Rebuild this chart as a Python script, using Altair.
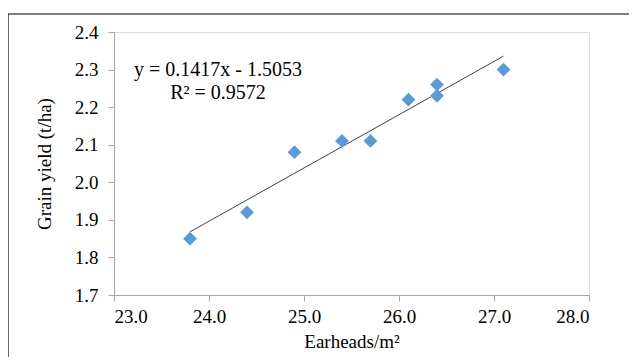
import altair as alt
import pandas as pd

earheads = [23.8, 24.4, 24.9, 25.4, 25.7, 26.1, 26.4, 26.4, 27.1]
grain_yield = [1.85, 1.92, 2.08, 2.11, 2.11, 2.22, 2.26, 2.23, 2.30]
x_ticks = [23.0, 24.0, 25.0, 26.0, 27.0, 28.0]
y_ticks = [1.7, 1.8, 1.9, 2.0, 2.1, 2.2, 2.3, 2.4]
equation_lines = ["y = 0.1417x - 1.5053", "R\u00b2 = 0.9572"]

df = pd.DataFrame({"x": earheads, "y": grain_yield})
FONT = "Liberation Serif"

xenc = alt.X("x:Q", scale=alt.Scale(domain=[23, 28], nice=False, zero=False),
             axis=alt.Axis(values=x_ticks, format=".1f", title="Earheads/m\u00b2",
                           labelPadding=6, titlePadding=6))
yenc = alt.Y("y:Q", scale=alt.Scale(domain=[1.7, 2.4], nice=False, zero=False),
             axis=alt.Axis(values=y_ticks, format=".1f", title="Grain yield (t/ha)",
                           labelPadding=10, titlePadding=20))

base = alt.Chart(df)

points = base.mark_point(shape="diamond", filled=True, color="#5b9bd5", size=190, opacity=1).encode(
    x=xenc, y=yenc)

trend = base.transform_regression("x", "y", extent=[23.8, 27.1]).mark_line(
    color="#404040", strokeWidth=1).encode(x=xenc, y=yenc)

eq_df = pd.DataFrame({"t": equation_lines, "row": [0, 1]})
eq1 = alt.Chart(eq_df[eq_df.row == 0]).mark_text(font=FONT, fontSize=20, align="center",
                                                   baseline="middle", color="#000").encode(
    text="t:N", x=alt.value(104), y=alt.value(38))
eq2 = alt.Chart(eq_df[eq_df.row == 1]).mark_text(font=FONT, fontSize=20, align="center",
                                                   baseline="middle", color="#000").encode(
    text="t:N", x=alt.value(104), y=alt.value(61))

frame = alt.Chart(pd.DataFrame({"a": [0]})).mark_rect(fill=None, fillOpacity=0,
                                                     stroke="#000", strokeWidth=1.2).encode(
    x=alt.value(-106), x2=alt.value(560), y=alt.value(-18), y2=alt.value(400))

chart = alt.layer(frame, trend, points, eq1, eq2).properties(
    width=475, height=263,
    autosize=alt.AutoSizeParams(type="none"),
    padding={"left": 106, "top": 24, "right": 40, "bottom": 62},
).configure_view(stroke=None).configure(background="white").configure_axis(
    grid=False, domainColor="#a6a6a6", tickColor="#a6a6a6", tickSize=6,
    labelFont=FONT, labelFontSize=19, labelColor="#000", labelOverlap=False,
    titleFont=FONT, titleFontSize=19, titleFontWeight="normal", titleColor="#000")

chart.save("out.html", embed_options={"renderer": "svg", "actions": False})
